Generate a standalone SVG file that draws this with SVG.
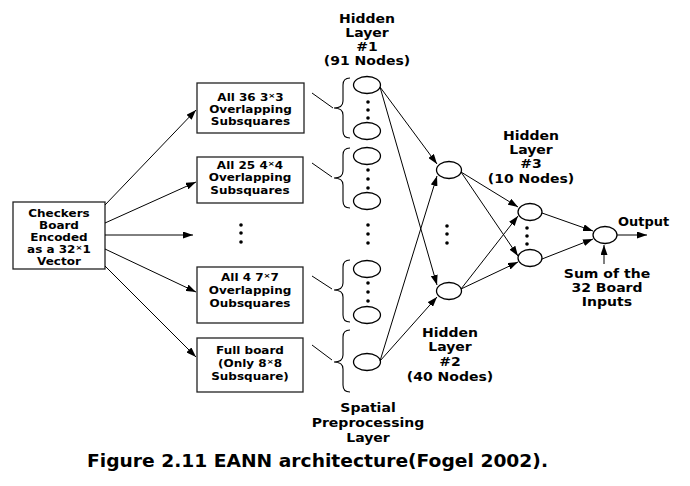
<svg xmlns="http://www.w3.org/2000/svg" width="690" height="486" viewBox="0 0 690 486">
<defs>
<marker id="ah" viewBox="0 0 10 7" refX="10" refY="3.5" markerWidth="10" markerHeight="7" markerUnits="userSpaceOnUse" orient="auto">
<path d="M0,0 L10,3.5 L0,7 Z" fill="#000"/>
</marker>
</defs>
<style>
.box{fill:#fff;stroke:#222;stroke-width:1.3}
.nd{fill:#fff;stroke:#000;stroke-width:1.3}
.t{font-family:"DejaVu Sans",Verdana,sans-serif;font-weight:bold;font-size:10px;text-anchor:middle;fill:#000}
.lb{font-family:"DejaVu Sans",Verdana,sans-serif;font-weight:bold;font-size:11.8px;text-anchor:middle;fill:#000}
.cap{font-family:"DejaVu Sans",Verdana,sans-serif;font-weight:bold;font-size:18px;fill:#000}
.ln{stroke:#000;stroke-width:1;fill:none}
.ar{stroke:#000;stroke-width:1;fill:none;marker-end:url(#ah)}
.br{stroke:#000;stroke-width:1.1;fill:none}
.dot{fill:#000}
</style>
<rect width="690" height="486" fill="#fff"/>

<g id="input">
<rect class="box" x="13" y="202" width="92" height="67"/>
<g transform="matrix(1.2,0,0,1,-11.8,0)">
<text class="t" x="59" y="217">Checkers</text>
<text class="t" x="59" y="229">Board</text>
<text class="t" x="59" y="241">Encoded</text>
<text class="t" x="59" y="253">as a 32<tspan font-size="7" dy="-3">×</tspan><tspan dy="3">1</tspan></text>
<text class="t" x="59" y="265">Vector</text>
</g>
</g>

<g id="box1">
<rect class="box" x="197" y="83" width="107" height="50"/>
<g transform="matrix(1.2,0,0,1,-50.1,0)">
<text class="t" x="250.5" y="101">All 36 3<tspan font-size="7" dy="-3">×</tspan><tspan dy="3">3</tspan></text>
<text class="t" x="250.5" y="113">Overlapping</text>
<text class="t" x="250.5" y="125">Subsquares</text>
</g>
</g>

<g id="box2">
<rect class="box" x="197" y="157" width="106" height="46"/>
<g transform="matrix(1.2,0,0,1,-50,0)">
<text class="t" x="250" y="169">All 25 4<tspan font-size="7" dy="-3">×</tspan><tspan dy="3">4</tspan></text>
<text class="t" x="250" y="181">Overlapping</text>
<text class="t" x="250" y="194">Subsquares</text>
</g>
</g>

<g id="boxdots">
<circle class="dot" cx="241" cy="225" r="1.8"/>
<circle class="dot" cx="241" cy="233" r="1.8"/>
<circle class="dot" cx="241" cy="242" r="1.8"/>
</g>

<g id="box4">
<rect class="box" x="197" y="267" width="106" height="56"/>
<g transform="matrix(1.2,0,0,1,-50,0)">
<text class="t" x="250" y="281">All 4 7<tspan font-size="7" dy="-3">×</tspan><tspan dy="3">7</tspan></text>
<text class="t" x="250" y="294">Overlapping</text>
<text class="t" x="250" y="307">Oubsquares</text>
</g>
</g>

<g id="box5">
<rect class="box" x="197" y="338" width="106" height="54"/>
<g transform="matrix(1.2,0,0,1,-50,0)">
<text class="t" x="250" y="354">Full board</text>
<text class="t" x="250" y="367">(Only 8<tspan font-size="7" dy="-3">×</tspan><tspan dy="3">8</tspan></text>
<text class="t" x="250" y="380">Subsquare)</text>
</g>
</g>

<g id="spatial-layer">
<path class="br" d="M350,78 Q343,78 343,85 L343,101 Q343,108 334,108 Q343,108 343,115 L343,131 Q343,138 350,138"/>
<path class="br" d="M350,148 Q343,148 343,155 L343,171 Q343,178 334,178 Q343,178 343,185 L343,201 Q343,208 350,208"/>
<path class="br" d="M350,260 Q343,260 343,267 L343,283 Q343,290 334,290 Q343,290 343,297 L343,315 Q343,322 350,322"/>
<path class="br" d="M350,330 Q343,330 343,337 L343,355 Q343,362 334,362 Q343,362 343,369 L343,385 Q343,392 350,392"/>
<ellipse class="nd" cx="367" cy="85" rx="13.5" ry="8.5"/>
<ellipse class="nd" cx="367" cy="131" rx="13.5" ry="8.5"/>
<ellipse class="nd" cx="367" cy="156" rx="13.5" ry="8.5"/>
<ellipse class="nd" cx="367" cy="201" rx="13.5" ry="8.5"/>
<ellipse class="nd" cx="367" cy="269" rx="13.5" ry="8.5"/>
<ellipse class="nd" cx="367" cy="315" rx="13.5" ry="8.5"/>
<ellipse class="nd" cx="367" cy="362" rx="13.5" ry="8.5"/>
<circle class="dot" cx="368" cy="102" r="1.8"/>
<circle class="dot" cx="368" cy="110" r="1.8"/>
<circle class="dot" cx="368" cy="118" r="1.8"/>
<circle class="dot" cx="368" cy="170" r="1.8"/>
<circle class="dot" cx="368" cy="179" r="1.8"/>
<circle class="dot" cx="368" cy="188" r="1.8"/>
<circle class="dot" cx="368" cy="225" r="1.8"/>
<circle class="dot" cx="368" cy="234" r="1.8"/>
<circle class="dot" cx="368" cy="243" r="1.8"/>
<circle class="dot" cx="368" cy="283" r="1.8"/>
<circle class="dot" cx="368" cy="292" r="1.8"/>
<circle class="dot" cx="368" cy="301" r="1.8"/>
</g>

<g id="hidden2">
<ellipse class="nd" cx="449" cy="170" rx="12.5" ry="8.5"/>
<ellipse class="nd" cx="449" cy="291" rx="12.5" ry="8.5"/>
<circle class="dot" cx="447" cy="226" r="1.8"/>
<circle class="dot" cx="447" cy="234" r="1.8"/>
<circle class="dot" cx="447" cy="243" r="1.8"/>
</g>

<g id="hidden3">
<ellipse class="nd" cx="530" cy="212" rx="12" ry="8.5"/>
<ellipse class="nd" cx="530" cy="258" rx="12" ry="8.5"/>
<circle class="dot" cx="527" cy="228" r="1.8"/>
<circle class="dot" cx="527" cy="236" r="1.8"/>
<circle class="dot" cx="527" cy="244" r="1.8"/>
</g>

<g id="output">
<ellipse class="nd" cx="605" cy="235" rx="12" ry="8.5"/>
</g>

<g id="labels">
<g transform="matrix(1.19,0,0,1,-69.73,0)">
<text class="lb" x="367" y="23">Hidden</text>
<text class="lb" x="367" y="37">Layer</text>
<text class="lb" x="367" y="51">#1</text>
<text class="lb" x="367" y="65">(91 Nodes)</text>
</g>
<g transform="matrix(1.19,0,0,1,-100.89,0)">
<text class="lb" x="531" y="140">Hidden</text>
<text class="lb" x="531" y="154">Layer</text>
<text class="lb" x="531" y="168">#3</text>
<text class="lb" x="531" y="183">(10 Nodes)</text>
</g>
<g transform="matrix(1.19,0,0,1,-85.5,0)">
<text class="lb" x="450" y="337">Hidden</text>
<text class="lb" x="450" y="351">Layer</text>
<text class="lb" x="450" y="366">#2</text>
<text class="lb" x="450" y="381">(40 Nodes)</text>
</g>
<g transform="matrix(1.19,0,0,1,-69.92,0)">
<text class="lb" x="368" y="412">Spatial</text>
<text class="lb" x="368" y="427">Preprocessing</text>
<text class="lb" x="368" y="442">Layer</text>
</g>
<g transform="matrix(1.19,0,0,1,-115.33,0)">
<text class="lb" x="607" y="278">Sum of the</text>
<text class="lb" x="607" y="292">32 Board</text>
<text class="lb" x="607" y="306">Inputs</text>
</g>
<g transform="matrix(1.1,0,0,1,-61.8,0)">
<text class="lb" x="618" y="226" style="text-anchor:start">Output</text>
</g>
</g>

<g id="connectors">
<line class="ar" x1="105" y1="205" x2="196" y2="110"/>
<line class="ar" x1="105" y1="223" x2="196" y2="182"/>
<line class="ar" x1="105" y1="235" x2="193" y2="235"/>
<line class="ar" x1="105" y1="249" x2="196" y2="292"/>
<line class="ar" x1="105" y1="266" x2="196" y2="357"/>
<line class="ln" x1="312" y1="93" x2="333" y2="108"/>
<line class="ln" x1="312" y1="163" x2="332" y2="177"/>
<line class="ln" x1="312" y1="276" x2="332" y2="289"/>
<line class="ln" x1="312" y1="345" x2="332" y2="360"/>
<line class="ar" x1="380" y1="87" x2="437" y2="164"/>
<line class="ar" x1="380" y1="87" x2="437" y2="285"/>
<line class="ar" x1="380" y1="361" x2="437" y2="176"/>
<line class="ar" x1="380" y1="361" x2="437" y2="297"/>
<line class="ar" x1="461" y1="172" x2="518" y2="207"/>
<line class="ar" x1="461" y1="172" x2="518" y2="256"/>
<line class="ar" x1="461" y1="289" x2="518" y2="216"/>
<line class="ar" x1="461" y1="289" x2="518" y2="262"/>
<line class="ar" x1="542" y1="213" x2="593" y2="231"/>
<line class="ar" x1="542" y1="259" x2="593" y2="239"/>
<line class="ar" x1="617" y1="235" x2="647" y2="235"/>
<line class="ar" x1="604" y1="264" x2="604" y2="245"/>
</g>

<text class="cap" x="87" y="467" textLength="461" lengthAdjust="spacingAndGlyphs">Figure 2.11 EANN architecture(Fogel 2002).</text>
</svg>
